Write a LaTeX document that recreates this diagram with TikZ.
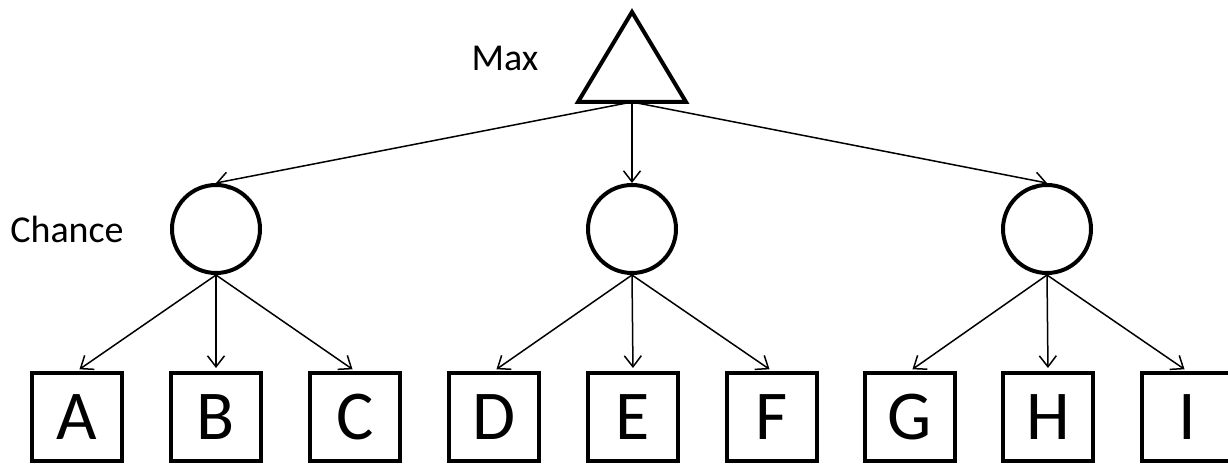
\documentclass[tikz,border=0pt]{standalone}
\usepackage{fontspec}
\setmainfont{Carlito}
\usetikzlibrary{arrows.meta}
\tikzset{
  chancenode/.style={circle, draw, line width=4pt, minimum size=88pt, inner sep=0pt},
  leafnode/.style={rectangle, draw, line width=4pt, minimum width=90pt, minimum height=88pt,
    inner sep=0pt, font=\fontsize{70pt}{70pt}\selectfont},
  labeltext/.style={font=\fontsize{38pt}{38pt}\selectfont, inner sep=0pt},
  edge/.style={line width=1.5pt, -{Straight Barb[length=11pt,width=17pt,line width=1.5pt]}},
}
\begin{document}
\begin{tikzpicture}[x=1pt,y=-1pt]
  \useasboundingbox (0,0) rectangle (1228,465);
  % max node drawn as a triangle
  \coordinate (maxtop) at (632,12);
  \coordinate (maxbase) at (632,102);
  \draw[line width=4pt, line join=miter] (maxtop) -- (578,102) -- (686,102) -- cycle;
  \node[labeltext] (maxlabel) at (505,58) {Max};

  % chance nodes
  \node[chancenode] (c1) at (216,229) {};
  \node[chancenode] (c2) at (632,229) {};
  \node[chancenode] (c3) at (1047,229) {};
  \node[labeltext] (chancelabel) at (67,229) {Chance};

  % leaves
  \node[leafnode] (A) at (77,417) {A};
  \node[leafnode] (B) at (216,417) {B};
  \node[leafnode] (C) at (355,417) {C};
  \node[leafnode] (D) at (494,417) {D};
  \node[leafnode] (E) at (633,417) {E};
  \node[leafnode] (F) at (772,417) {F};
  \node[leafnode] (G) at (910,417) {G};
  \node[leafnode] (H) at (1048,417) {H};
  \node[leafnode] (I) at (1187,417) {I};

  % edges
  \foreach \c in {c1,c2,c3} \draw[edge] (maxbase) -- (\c.north);
  \foreach \c/\l in {c1/A,c1/B,c1/C,c2/D,c2/E,c2/F,c3/G,c3/H,c3/I}
    \draw[edge, shorten >=3pt] (\c.south) -- (\l.north);
\end{tikzpicture}
\end{document}
